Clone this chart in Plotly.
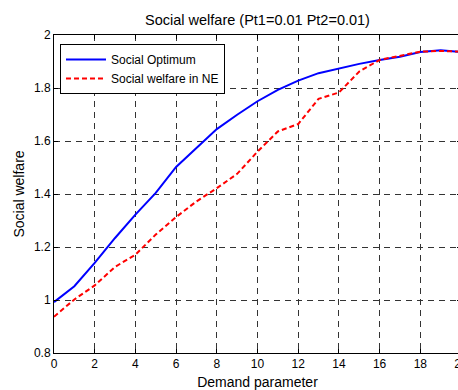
import plotly.graph_objects as go

demand = list(range(0, 21))
social_optimum = [0.992, 1.052, 1.14, 1.234, 1.322, 1.404, 1.502, 1.573, 1.645, 1.699,
                  1.75, 1.793, 1.828, 1.856, 1.874, 1.891, 1.906, 1.918, 1.936, 1.942, 1.936]
welfare_ne = [0.937, 1.002, 1.055, 1.125, 1.171, 1.247, 1.313, 1.372, 1.422, 1.476,
              1.56, 1.636, 1.664, 1.759, 1.783, 1.862, 1.906, 1.921, 1.937, 1.94, 1.937]

font_family = "Liberation Sans, Arial, sans-serif"

fig = go.Figure()
fig.add_trace(go.Scatter(x=demand, y=social_optimum, mode="lines", name="Social Optimum",
                         line=dict(color="#0000ff", width=2)))
fig.add_trace(go.Scatter(x=demand, y=welfare_ne, mode="lines", name="Social welfare in NE",
                         line=dict(color="#ff0000", width=2, dash="5px,3px")))

axis_common = dict(
    showline=True, linecolor="black", linewidth=1, mirror="ticks",
    ticks="inside", ticklen=4, tickcolor="black",
    showgrid=True, gridcolor="#333333", gridwidth=1, griddash="6px,5px",
    zeroline=False, tickfont=dict(size=12, color="black", family=font_family),
    ticklabeloverflow="allow", automargin=False,
)

fig.update_layout(
    width=466, height=390,
    margin=dict(l=54, r=5, t=35, b=37),
    paper_bgcolor="white", plot_bgcolor="white",
    font=dict(family=font_family, color="black"),
    title=dict(text="Social welfare (Pt1=0.01 Pt2=0.01)", x=257.5/466, xanchor="center",
               y=1 - 20/390, yanchor="middle", font=dict(size=14.5, color="black")),
    xaxis=dict(range=[0, 20], dtick=2, tick0=0,
               title=dict(text="Demand parameter", font=dict(size=14), standoff=6), **axis_common),
    yaxis=dict(range=[0.8, 2], dtick=0.2, tick0=0.8,
               title=dict(text="Social welfare", font=dict(size=14), standoff=6), **axis_common),
    legend=dict(x=6/407, y=1 - 9/318, xanchor="left", yanchor="top",
                bgcolor="white", bordercolor="black", borderwidth=1,
                font=dict(size=12, color="black"), tracegroupgap=0, itemwidth=40),
    showlegend=True,
)

fig.write_html("out.html",
               post_script="document.body.style.overflow='hidden';document.documentElement.style.overflow='hidden';document.body.style.margin='0';")
